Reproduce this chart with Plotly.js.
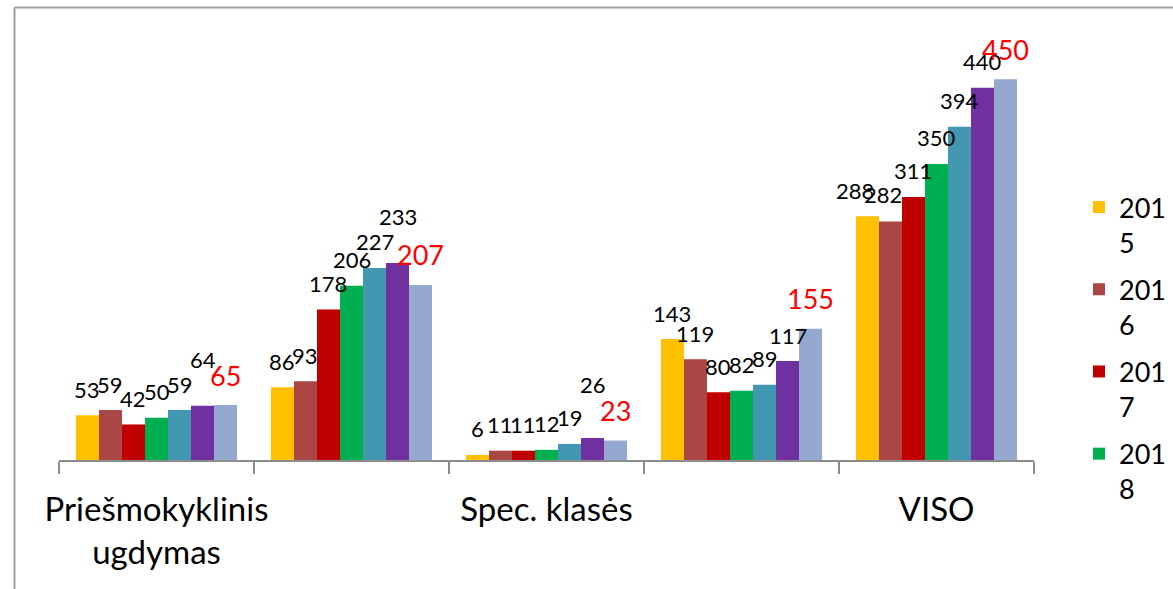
<!DOCTYPE html>
<html>
<head>
<meta charset="utf-8">
<script src="https://cdn.plot.ly/plotly-3.0.1.min.js"></script>
<style>
  html, body { margin: 0; padding: 0; background: #ffffff; }
  #chart { width: 1173px; height: 589px; }
</style>
</head>
<body>
<div id="chart"></div>
<script>
// ---- DATA ----
const categories = ['Priešmokyklinis<br>ugdymas', 'Kategorija 2', 'Spec. klasės', 'Kategorija 4', 'VISO'];
const tickLabels = ['Priešmokyklinis<br>ugdymas', '', 'Spec. klasės', '', 'VISO'];
const years = ['2015', '2016', '2017', '2018', '2019', '2020', '2021'];
const v2015 = [53, 86, 6, 143, 288];
const v2016 = [59, 93, 11, 119, 282];
const v2017 = [42, 178, 11, 80, 311];
const v2018 = [50, 206, 12, 82, 350];
const v2019 = [59, 227, 19, 89, 394];
const v2020 = [64, 233, 26, 117, 440];
const v2021 = [65, 207, 23, 155, 450];
const seriesValues = [v2015, v2016, v2017, v2018, v2019, v2020, v2021];

// ---- STYLE / LAYOUT ----
const colors = ['#FFC000', '#AA4643', '#C00000', '#00B050', '#4298B0', '#7030A0', '#95A9D0'];
const legendShown = [true, true, true, true, false, false, false];
const FONT = 'Lato, "Open Sans", "DejaVu Sans", sans-serif';
const W = 1173, H = 589;
const M = { l: 59, r: 139, t: 40, b: 129 };
const plotW = W - M.l - M.r, plotH = H - M.t - M.b;
const pxPerUnit = 0.846;
const yMax = plotH / pxPerUnit;
const bargap = 0.174;
const catPx = plotW / categories.length;
const barPx = catPx * (1 - bargap) / years.length;
// label nudges (pixels) keyed "series,category"
const labelNudge = {
  '0,4': { dx: -12, dy: 0 },
  '1,4': { dx: -7, dy: 1 },
  '5,0': { dx: 0, dy: 20 },
  '5,1': { dx: 0, dy: 20 },
  '5,2': { dx: 0, dy: 28 }
};

const px2x = p => (p - M.l) / plotW;
const py2y = p => (M.t + plotH - p) / plotH;

const traces = years.map((yr, i) => ({
  type: 'bar',
  name: yr.slice(0, 3) + '<br>' + yr.slice(3),
  legendgroup: yr,
  x: categories,
  y: seriesValues[i],
  marker: { color: colors[i] },
  showlegend: legendShown[i],
  hoverinfo: 'skip'
}));

const annotations = [];
seriesValues.forEach((vals, i) => {
  const last = i === seriesValues.length - 1;
  vals.forEach((v, j) => {
    const n = labelNudge[i + ',' + j] || { dx: 0, dy: 0 };
    annotations.push({
      x: categories[j], y: v, xref: 'x', yref: 'y',
      text: String(v), showarrow: false,
      xanchor: 'center', yanchor: 'middle',
      xshift: (i - (years.length - 1) / 2) * barPx + n.dx,
      yshift: (last ? 30 : 26) + n.dy,
      font: { family: FONT, size: last ? 27 : 22, color: last ? '#FF0000' : '#000000' }
    });
  });
});

const layout = {
  width: W, height: H,
  margin: Object.assign({ autoexpand: false }, M),
  paper_bgcolor: '#ffffff', plot_bgcolor: '#ffffff',
  barmode: 'group', bargap: bargap, bargroupgap: 0,
  font: { family: FONT, color: '#000000' },
  xaxis: {
    type: 'category',
    tickmode: 'array', tickvals: categories, ticktext: tickLabels,
    tickangle: 0, automargin: false,
    tickson: 'boundaries', ticks: 'outside', ticklen: 12, tickwidth: 2, tickcolor: '#8C8C8C',
    showline: true, linecolor: '#8C8C8C', linewidth: 2,
    showgrid: false, zeroline: false,
    ticklabelstandoff: 19,
    tickfont: { family: FONT, size: 33, color: '#000000' }
  },
  yaxis: { visible: false, range: [0, yMax], showgrid: false, zeroline: false, automargin: false },
  legend: {
    x: px2x(1079), xanchor: 'left', y: py2y(183), yanchor: 'top',
    font: { family: FONT, size: 27, color: '#000000' },
    valign: 'top', tracegroupgap: 9, bgcolor: 'rgba(0,0,0,0)'
  },
  shapes: [
    { type: 'line', xref: 'paper', yref: 'paper', x0: px2x(14.5), x1: px2x(14.5), y0: py2y(7.5), y1: py2y(620), line: { color: '#A0A0A0', width: 2 } },
    { type: 'line', xref: 'paper', yref: 'paper', x0: px2x(14.5), x1: px2x(1200), y0: py2y(7.5), y1: py2y(7.5), line: { color: '#A0A0A0', width: 2 } }
  ],
  annotations: annotations,
  showlegend: true
};

Plotly.newPlot('chart', traces, layout, { staticPlot: true, displayModeBar: false });
</script>
</body>
</html>
